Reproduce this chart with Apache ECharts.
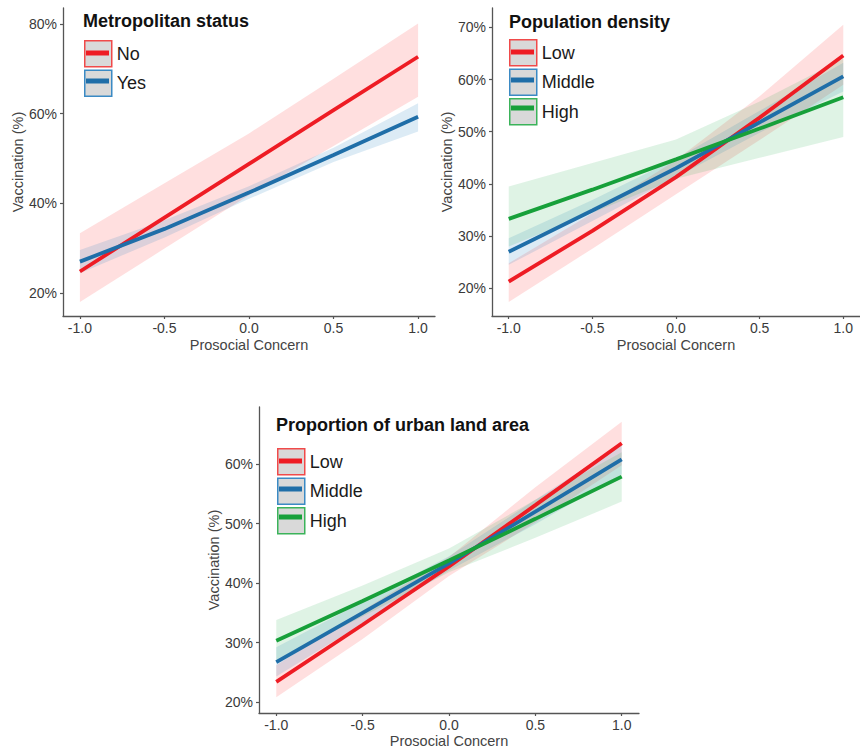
<!DOCTYPE html>
<html>
<head>
<meta charset="utf-8">
<script src="https://cdn.jsdelivr.net/npm/echarts@6/dist/echarts.min.js"></script>
<style>
html,body{margin:0;padding:0;background:#fff;}
#chart{width:860px;height:749px;}
</style>
</head>
<body>
<div id="chart"></div>
<script>
// ---- data ----
const xVals = [-1, -0.5, 0, 0.5, 1];
const xTicks = [-1, -0.5, 0, 0.5, 1];
const yTicks1 = [20, 40, 60, 80];
const yTicks2 = [20, 30, 40, 50, 60, 70];
const yTicks3 = [20, 30, 40, 50, 60];

const titles = ['Metropolitan status', 'Population density', 'Proportion of urban land area'];
const groups1 = ['No', 'Yes'];
const groups2 = ['Low', 'Middle', 'High'];
const groups3 = ['Low', 'Middle', 'High'];

// Panel 1: Metropolitan status
const metroNo   = [24.8, 36.8, 48.8, 60.8, 72.7];
const metroNoLo = [18.0, 29.9, 41.8, 52.8, 63.8];
const metroNoHi = [33.3, 44.5, 55.6, 67.8, 80.1];
const metroYes   = [27.0, 34.3, 42.4, 50.8, 59.3];
const metroYesLo = [24.4, 32.4, 41.0, 49.2, 56.0];
const metroYesHi = [29.6, 36.2, 43.8, 52.4, 62.3];

// Panel 2: Population density
const densLow   = [21.3, 31.0, 41.3, 52.7, 64.6];
const densLowLo = [17.4, 27.6, 38.0, 48.4, 59.0];
const densLowHi = [24.8, 34.4, 44.6, 56.8, 70.5];
const densMid   = [27.0, 34.9, 43.0, 51.8, 60.6];
const densMidLo = [24.5, 32.9, 41.3, 49.8, 57.7];
const densMidHi = [29.6, 36.9, 44.8, 54.0, 63.2];
const densHigh   = [33.3, 38.9, 44.7, 50.6, 56.6];
const densHighLo = [28.0, 34.5, 41.0, 45.0, 49.0];
const densHighHi = [39.5, 44.0, 48.5, 55.8, 64.0];

// Panel 3: Proportion of urban land area
const urbLow   = [23.4, 33.0, 42.8, 53.1, 63.5];
const urbLowLo = [20.8, 30.6, 41.2, 50.2, 59.8];
const urbLowHi = [26.2, 35.4, 44.4, 56.1, 67.1];
const urbMid   = [26.7, 35.0, 43.3, 52.0, 60.8];
const urbMidLo = [24.3, 33.2, 42.1, 49.9, 58.3];
const urbMidHi = [29.2, 36.8, 44.5, 54.0, 63.3];
const urbHigh   = [30.3, 37.0, 43.8, 50.8, 57.9];
const urbHighLo = [27.0, 34.4, 41.8, 47.6, 53.7];
const urbHighHi = [33.8, 39.6, 45.8, 54.0, 62.0];

// ---- styles ----
const RED = '#ee1c24', BLUE = '#1f6ea8', GREEN = '#17a03a';
const RED_F = 'rgba(255,40,40,0.15)', BLUE_F = 'rgba(40,130,195,0.16)', GREEN_F = 'rgba(40,175,80,0.15)';
const RED_B = '#f04a4a', BLUE_B = '#3b8ac4', GREEN_B = '#3bb35a';
const FONT = '"Liberation Sans", Arial, Helvetica, sans-serif';

const chart = echarts.init(document.getElementById('chart'), null, {renderer: 'svg'});

function xAxis(gi) {
  return {
    type: 'value', gridIndex: gi, min: -1.1, max: 1.1,
    name: 'Prosocial Concern', nameLocation: 'middle', nameGap: gi === 2 ? 20 : 21,
    nameTextStyle: {fontFamily: FONT, fontSize: 14.5, color: '#444'},
    axisLine: {show: true, onZero: false, lineStyle: {color: '#555', width: 1.3}},
    axisTick: {show: true, length: 3, lineStyle: {color: '#555', width: 1.2}, customValues: xTicks},
    axisLabel: {fontFamily: FONT, fontSize: 14, color: '#3a3a3a', margin: 5,
      customValues: xTicks, formatter: v => v.toFixed(1)},
    splitLine: {show: false}
  };
}
function yAxis(gi, min, max, ticks, gap) {
  return {
    type: 'value', gridIndex: gi, min: min, max: max,
    name: 'Vaccination (%)', nameLocation: 'middle', nameGap: gap, nameRotate: 90,
    nameTextStyle: {fontFamily: FONT, fontSize: 14.5, color: '#444'},
    axisLine: {show: true, onZero: false, lineStyle: {color: '#555', width: 1.3}},
    axisTick: {show: true, length: 3, lineStyle: {color: '#555', width: 1.2}, customValues: ticks},
    axisLabel: {fontFamily: FONT, fontSize: 14, color: '#3a3a3a', margin: 6,
      customValues: ticks, formatter: v => Math.round(v) + '%'},
    splitLine: {show: false}
  };
}

function ribbon(name, gi, lo, hi, fill) {
  return {
    type: 'custom', name: name, xAxisIndex: gi, yAxisIndex: gi, z: 1, silent: true,
    data: xVals.map((x, i) => [x, lo[i], hi[i]]),
    encode: {x: 0, y: [1, 2]},
    renderItem: function (params, api) {
      if (params.dataIndex !== 0) return;
      const pts = [];
      for (let i = 0; i < xVals.length; i++) pts.push(api.coord([xVals[i], hi[i]]));
      for (let i = xVals.length - 1; i >= 0; i--) pts.push(api.coord([xVals[i], lo[i]]));
      return {type: 'polygon', shape: {points: pts}, style: {fill: fill}};
    }
  };
}
function line(name, gi, ys, color) {
  return {
    type: 'line', name: name, xAxisIndex: gi, yAxisIndex: gi, z: 3,
    data: xVals.map((x, i) => [x, ys[i]]),
    showSymbol: false, symbol: 'none', smooth: false,
    lineStyle: {color: color, width: 3.8, cap: 'butt'}, itemStyle: {color: color}
  };
}

function legend(left, top, names, keys, borders) {
  return {
    show: true, orient: 'vertical', left: left, top: top, padding: 0,
    itemWidth: 27, itemHeight: 26, itemGap: 2, icon: 'rect',
    selectedMode: false,
    formatter: n => n.split('|')[0],
    textStyle: {fontFamily: FONT, fontSize: 18, color: '#1a1a1a', lineHeight: 22},
    data: keys.map((k, i) => ({name: k, icon: 'rect',
      itemStyle: {color: '#d9d9d9', borderColor: borders[i], borderWidth: 1.5}}))
  };
}
function keyBars(left, top, colors) {
  return colors.map((c, i) => ({
    type: 'rect', left: left + 2, top: top + i * 28 + 10.5, z: 100,
    shape: {width: 23, height: 5}, style: {fill: c}
  }));
}

const option = {
  animation: false,
  backgroundColor: '#ffffff',
  title: [
    {text: titles[0], left: 83, top: 12, padding: 0,
      textStyle: {fontFamily: FONT, fontSize: 18, fontWeight: 'bold', color: '#111', lineHeight: 18}},
    {text: titles[1], left: 509, top: 13, padding: 0,
      textStyle: {fontFamily: FONT, fontSize: 18, fontWeight: 'bold', color: '#111', lineHeight: 18}},
    {text: titles[2], left: 276, top: 416, padding: 0,
      textStyle: {fontFamily: FONT, fontSize: 18, fontWeight: 'bold', color: '#111', lineHeight: 18}}
  ],
  legend: [
    legend(84, 40, groups1, groups1.map(g => g + '|m'), [RED_B, BLUE_B]),
    legend(509, 39, groups2, groups2.map(g => g + '|d'), [RED_B, BLUE_B, GREEN_B]),
    legend(277, 448, groups3, groups3.map(g => g + '|u'), [RED_B, BLUE_B, GREEN_B])
  ],
  graphic: [].concat(
    keyBars(84, 40, [RED, BLUE]),
    keyBars(509, 39, [RED, BLUE, GREEN]),
    keyBars(277, 448, [RED, BLUE, GREEN])
  ),
  grid: [
    {left: 63, top: 8, width: 372, height: 308},
    {left: 492, top: 8, width: 373, height: 308},
    {left: 259, top: 407, width: 380, height: 307}
  ],
  xAxis: [xAxis(0), xAxis(1), xAxis(2)],
  yAxis: [
    yAxis(0, 14.87, 83.57, yTicks1, 38),
    yAxis(1, 14.7, 73.7, yTicks2, 38),
    yAxis(2, 18.16, 69.6, yTicks3, 37)
  ],
  series: [
    ribbon('No ribbon', 0, metroNoLo, metroNoHi, RED_F),
    ribbon('Yes ribbon', 0, metroYesLo, metroYesHi, BLUE_F),
    line('No|m', 0, metroNo, RED),
    line('Yes|m', 0, metroYes, BLUE),

    ribbon('Low ribbon d', 1, densLowLo, densLowHi, RED_F),
    ribbon('Middle ribbon d', 1, densMidLo, densMidHi, BLUE_F),
    ribbon('High ribbon d', 1, densHighLo, densHighHi, GREEN_F),
    line('Low|d', 1, densLow, RED),
    line('Middle|d', 1, densMid, BLUE),
    line('High|d', 1, densHigh, GREEN),

    ribbon('Low ribbon u', 2, urbLowLo, urbLowHi, RED_F),
    ribbon('Middle ribbon u', 2, urbMidLo, urbMidHi, BLUE_F),
    ribbon('High ribbon u', 2, urbHighLo, urbHighHi, GREEN_F),
    line('Low|u', 2, urbLow, RED),
    line('Middle|u', 2, urbMid, BLUE),
    line('High|u', 2, urbHigh, GREEN)
  ]
};
chart.setOption(option);
</script>
</body>
</html>
